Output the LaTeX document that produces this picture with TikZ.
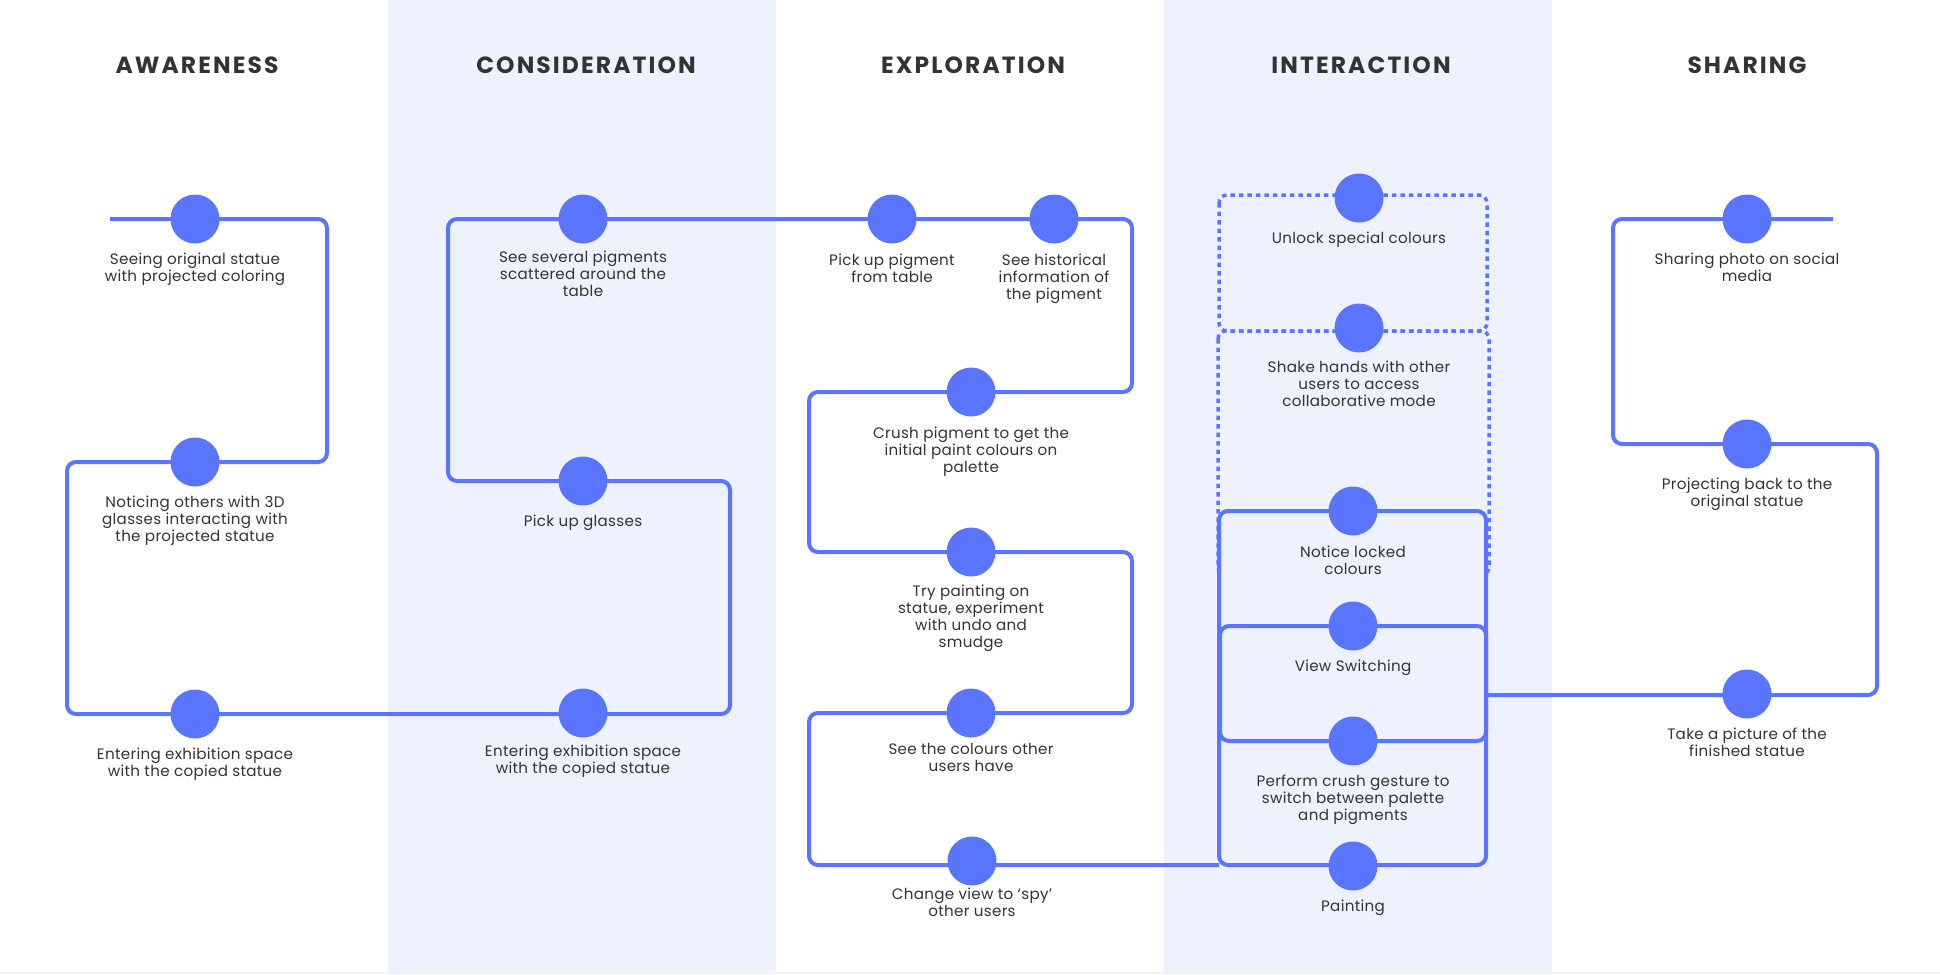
\documentclass[tikz,border=0pt]{standalone}
\usepackage{fontspec}
\setmainfont{Poppins}
\newfontfamily\phasefont{Poppins}[LetterSpace=9]
\newfontfamily\labelfont{Poppins}[LetterSpace=2]
\definecolor{flow}{HTML}{5A75FF}
\definecolor{txt}{HTML}{333333}
\definecolor{band}{HTML}{EEF1FE}
\definecolor{edgegray}{HTML}{F2F2F2}
\pgfdeclarelayer{bands}
\pgfdeclarelayer{lines}
\pgfsetlayers{bands,lines,main}
\begin{document}
\begin{tikzpicture}[x=1bp,y=-1bp,
  stop/.style={circle,fill=flow,minimum size=49bp,inner sep=0pt},
  lbl/.style={text=txt,align=center,anchor=north,inner sep=0pt,font=\labelfont\fontsize{15.2}{17}\selectfont},
  phase/.style={text=txt,inner sep=0pt,font=\phasefont\fontsize{23.5}{26}\selectfont\bfseries},
  flowline/.style={draw=flow,line width=4bp,rounded corners=9bp},
  dotline/.style={draw=flow,line width=3.5bp,dash pattern=on 4.5bp off 4bp,rounded corners=8bp},
  boxline/.style={draw=flow,fill=band,line width=4bp,rounded corners=9bp}]
\useasboundingbox (0,0) rectangle (1940,974);

% background bands
\begin{pgfonlayer}{bands}
  \fill[white] (0,0) rectangle (1940,974);
  \fill[band] (388,0) rectangle (776,972);
  \fill[band] (1164,0) rectangle (1552,972);
  \fill[edgegray] (0,972) rectangle (1940,974);
\end{pgfonlayer}

% phase titles
\node[phase] (tAw) at (197,65) {AWARENESS};
\node[phase] (tCo) at (586,65) {CONSIDERATION};
\node[phase] (tEx) at (973,65) {EXPLORATION};
\node[phase] (tIn) at (1361,65) {INTERACTION};
\node[phase] (tSh) at (1747,65) {SHARING};

% interaction boxes (dotted then solid)
\draw[dotline] (1219,195) rectangle (1487,331);
\draw[dotline] (1218,331) rectangle (1489,575);
\draw[boxline] (1219,511) rectangle (1486,865);
\draw[boxline] (1220,626) rectangle (1486,741);

% stops
\node[stop] (A1) at (195,219) {};
\node[stop] (A2) at (195,462) {};
\node[stop] (A3) at (195,714) {};
\node[stop] (C1) at (583,219) {};
\node[stop] (C2) at (583,481) {};
\node[stop] (C3) at (583,713) {};
\node[stop] (E1) at (892,219) {};
\node[stop] (E2) at (1054,219) {};
\node[stop] (E3) at (971,392) {};
\node[stop] (E4) at (971,552) {};
\node[stop] (E5) at (971,713) {};
\node[stop] (E6) at (972,861) {};
\node[stop] (I1) at (1359,198) {};
\node[stop] (I2) at (1359,328) {};
\node[stop] (I3) at (1353,511) {};
\node[stop] (I4) at (1353,626) {};
\node[stop] (I5) at (1353,741) {};
\node[stop] (I6) at (1353,866) {};
\node[stop] (S1) at (1747,219) {};
\node[stop] (S2) at (1747,444) {};
\node[stop] (S3) at (1747,694) {};

% free ends
\coordinate (startA) at (110,219);
\coordinate (boxIn) at (1219,865);
\coordinate (boxOut) at (1486,695);
\coordinate (endS) at (1833,219);

% flow lines
\begin{pgfonlayer}{lines}
  \draw[flowline] (startA) -- (A1.center) -- (327,219) -- (327,462) -- (A2.center)
    -- (67,462) -- (67,714) -- (A3.center) -- (C3.center |- A3.center) -- (730,714) -- (730,481)
    -- (C2.center) -- (448,481) -- (448,219) -- (C1.center) -- (E1.center) -- (E2.center)
    -- (1132,219) -- (1132,392) -- (E3.center) -- (809,392) -- (809,552) -- (E4.center)
    -- (1132,552) -- (1132,713) -- (E5.center) -- (809,713) -- (809,865) -- (E6.center |- boxIn) -- (boxIn);
  \draw[flowline] (boxOut) -- (S3.center |- boxOut) -- (1877,695) -- (1877,444) -- (S2.center)
    -- (1613,444) -- (1613,219) -- (S1.center) -- (endS);
\end{pgfonlayer}

% labels
\node[lbl] (A1t) at (195,253) {Seeing original statue\\with projected coloring};
\node[lbl] (A2t) at (195,496) {Noticing others with 3D\\glasses interacting with\\the projected statue};
\node[lbl] (A3t) at (195,748) {Entering exhibition space\\with the copied statue};
\node[lbl] (C1t) at (583,251) {See several pigments\\scattered around the\\table};
\node[lbl] (C2t) at (583,515) {Pick up glasses};
\node[lbl] (C3t) at (583,745) {Entering exhibition space\\with the copied statue};
\node[lbl] (E1t) at (892,254) {Pick up pigment\\from table};
\node[lbl] (E2t) at (1054,254) {See historical\\information of\\the pigment};
\node[lbl] (E3t) at (971,427) {Crush pigment to get the\\initial paint colours on\\palette};
\node[lbl] (E4t) at (971,585) {Try painting on\\statue, experiment\\with undo and\\smudge};
\node[lbl] (E5t) at (971,743) {See the colours other\\users have};
\node[lbl] (E6t) at (972,888) {Change view to ‘spy’\\other users};
\node[lbl] (I1t) at (1359,232) {Unlock special colours};
\node[lbl] (I2t) at (1359,361) {Shake hands with other\\users to access\\collaborative mode};
\node[lbl] (I3t) at (1353,546) {Notice locked\\colours};
\node[lbl] (I4t) at (1353,660) {View Switching};
\node[lbl] (I5t) at (1353,775) {Perform crush gesture to\\switch between palette\\and pigments};
\node[lbl] (I6t) at (1353,900) {Painting};
\node[lbl] (S1t) at (1747,253) {Sharing photo on social\\media};
\node[lbl] (S2t) at (1747,478) {Projecting back to the\\original statue};
\node[lbl] (S3t) at (1747,728) {Take a picture of the\\finished statue};
\end{tikzpicture}
\end{document}
